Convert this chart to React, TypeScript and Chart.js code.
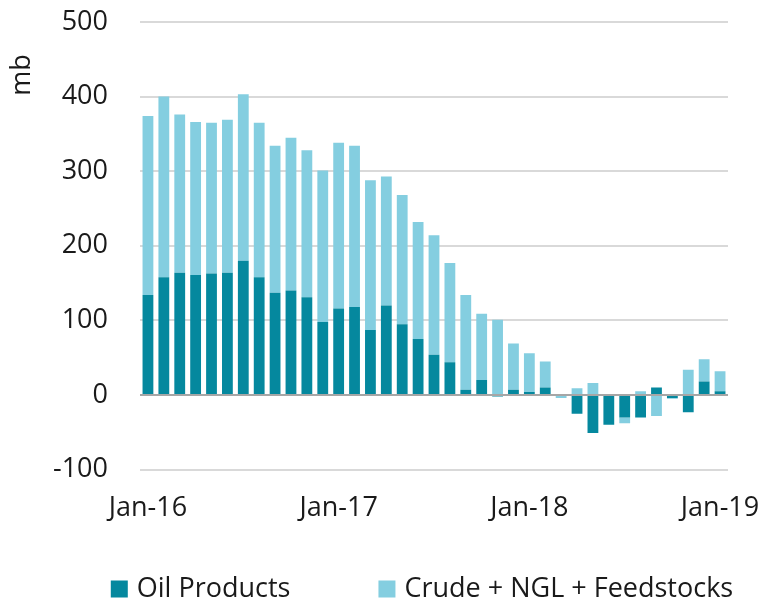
import React, { useEffect, useRef } from 'react';
import { Chart, registerables } from 'chart.js';

Chart.register(...registerables);

const categories = [
  'Jan-16', 'Feb-16', 'Mar-16', 'Apr-16', 'May-16', 'Jun-16', 'Jul-16', 'Aug-16', 'Sep-16', 'Oct-16', 'Nov-16', 'Dec-16',
  'Jan-17', 'Feb-17', 'Mar-17', 'Apr-17', 'May-17', 'Jun-17', 'Jul-17', 'Aug-17', 'Sep-17', 'Oct-17', 'Nov-17', 'Dec-17',
  'Jan-18', 'Feb-18', 'Mar-18', 'Apr-18', 'May-18', 'Jun-18', 'Jul-18', 'Aug-18', 'Sep-18', 'Oct-18', 'Nov-18', 'Dec-18',
  'Jan-19',
];

const oilProducts = [
  134, 158, 164, 161, 163, 164, 180, 158, 137, 140, 131, 98,
  116, 118, 87, 120, 95, 75, 54, 44, 7, 20, -2, 7,
  4, 10, -1, -25, -51, -40, -30, -30, 10, -4, -23, 18,
  5,
];

const crudeNglFeedstocks = [
  240, 242, 212, 205, 202, 205, 223, 207, 197, 205, 197, 203,
  222, 216, 201, 173, 173, 157, 160, 133, 127, 89, 101, 62,
  52, 35, -3, 9, 16, 0, -8, 5, -28, -1, 34, 30,
  27,
];

const seriesNames = ['Oil Products', 'Crude + NGL + Feedstocks'];
const seriesColors = ['#05889E', '#84CEE0'];
const yAxisTitle = 'mb';

const FONT = '"Open Sans", "Noto Sans", sans-serif';
const FONT_SIZE = 27;

const extrasPlugin = {
  id: 'extras',
  afterDatasetsDraw(chart: any) {
    const { ctx, chartArea } = chart;
    const y = chart.scales.y.getPixelForValue(0);
    ctx.save();
    ctx.strokeStyle = '#A6A6A6';
    ctx.lineWidth = 2;
    ctx.beginPath();
    ctx.moveTo(chartArea.left, y);
    ctx.lineTo(chartArea.right, y);
    ctx.stroke();
    ctx.restore();
  },
  afterDraw(chart: any) {
    const { ctx, chartArea } = chart;
    ctx.save();
    ctx.fillStyle = '#1a1a1a';
    ctx.font = `${FONT_SIZE}px ${FONT}`;
    ctx.translate(22, 75);
    ctx.rotate(-Math.PI / 2);
    ctx.textAlign = 'center';
    ctx.textBaseline = 'middle';
    ctx.fillText(yAxisTitle, 0, 0);
    ctx.restore();

    ctx.save();
    ctx.font = `${FONT_SIZE}px ${FONT}`;
    const box = 17;
    const boxGap = 9;
    const itemGap = 88;
    const items = chart.data.datasets.map((d: any) => ({
      text: d.label as string,
      color: d.backgroundColor as string,
      w: box + boxGap + ctx.measureText(d.label).width,
    }));
    const total = items.reduce((s: number, it: any) => s + it.w, 0) + itemGap * (items.length - 1);
    let x = (chartArea.left + chartArea.right) / 2 - 12 - total / 2;
    const cy = 589;
    ctx.textAlign = 'left';
    ctx.textBaseline = 'middle';
    for (const it of items) {
      ctx.fillStyle = it.color;
      ctx.fillRect(x, cy - box / 2, box, box);
      ctx.fillStyle = '#1a1a1a';
      ctx.fillText(it.text, x + box + boxGap, cy);
      x += it.w + itemGap;
    }
    ctx.restore();
  },
};

export default function App() {
  const canvasRef = useRef<HTMLCanvasElement | null>(null);

  useEffect(() => {
    document.body.style.margin = '0';
    const canvas = canvasRef.current;
    if (!canvas) return;
    const chart = new Chart(canvas, {
      type: 'bar',
      data: {
        labels: categories,
        datasets: [
          {
            label: seriesNames[0],
            data: oilProducts,
            backgroundColor: seriesColors[0],
            borderWidth: 0,
            categoryPercentage: 1,
            barPercentage: 0.68,
          },
          {
            label: seriesNames[1],
            data: crudeNglFeedstocks,
            backgroundColor: seriesColors[1],
            borderWidth: 0,
            categoryPercentage: 1,
            barPercentage: 0.68,
          },
        ],
      },
      options: {
        animation: false,
        responsive: true,
        maintainAspectRatio: false,
        layout: { padding: { top: 22, right: 40, bottom: 76, left: 0 } },
        plugins: {
          legend: { display: false },
          tooltip: { enabled: false },
        },
        scales: {
          x: {
            stacked: true,
            grid: {
              display: true,
              drawOnChartArea: false,
              drawTicks: true,
              tickLength: 23,
              color: 'rgba(0,0,0,0)',
              tickColor: 'rgba(0,0,0,0)',
            },
            border: { display: false },
            ticks: {
              autoSkip: false,
              maxRotation: 0,
              minRotation: 0,
              padding: 0,
              color: '#1a1a1a',
              font: { family: FONT, size: FONT_SIZE },
              callback: (_v: any, i: number) => (i % 12 === 0 ? categories[i] : ''),
            },
          },
          y: {
            stacked: true,
            min: -100,
            max: 500,
            afterFit: (scale: any) => {
              scale.width = 140;
            },
            grid: {
              color: '#D9D9D9',
              lineWidth: 2,
              drawTicks: true,
              tickLength: 30,
              tickColor: 'rgba(0,0,0,0)',
            },
            border: { display: false },
            ticks: {
              stepSize: 100,
              padding: 2,
              color: '#1a1a1a',
              font: { family: FONT, size: FONT_SIZE },
            },
          },
        },
      },
      plugins: [extrasPlugin],
    });
    return () => chart.destroy();
  }, []);

  return (
    <div style={{ width: 768, height: 601, position: 'relative' }}>
      <canvas ref={canvasRef} />
    </div>
  );
}
